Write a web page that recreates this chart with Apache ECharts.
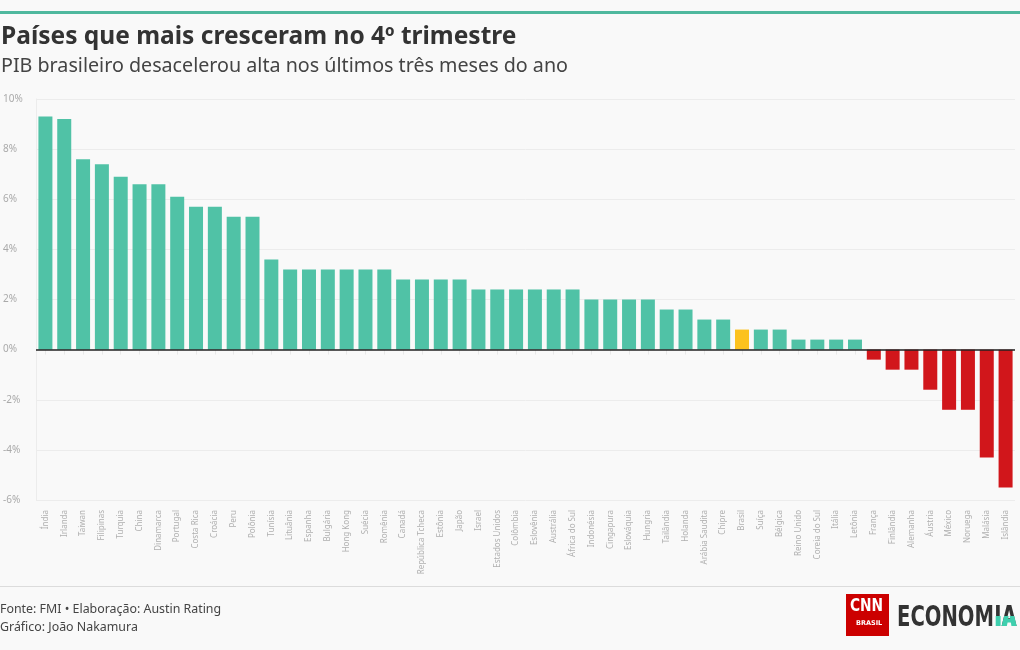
<!DOCTYPE html>
<html><head><meta charset="utf-8">
<script src="https://cdn.jsdelivr.net/npm/echarts@6/dist/echarts.min.js"></script>
<style>html,body{margin:0;padding:0;background:#f9f9f9;}#c{width:1020px;height:650px;}</style>
</head><body><div id="c"></div>
<script>
const categories = ["Índia","Irlanda","Taiwan","Filipinas","Turquia","China","Dinamarca","Portugal","Costa Rica","Croácia","Peru","Polônia","Tunísia","Lituânia","Espanha","Bulgária","Hong Kong","Suécia","Romênia","Canadá","República Tcheca","Estônia","Japão","Israel","Estados Unidos","Colômbia","Eslovênia","Austrália","África do Sul","Indonésia","Cingapura","Eslováquia","Hungria","Tailândia","Holanda","Arábia Saudita","Chipre","Brasil","Suíça","Bélgica","Reino Unido","Coreia do Sul","Itália","Letônia","França","Finlândia","Alemanha","Áustria","México","Noruega","Malásia","Islândia"];
const values = [9.3,9.2,7.6,7.4,6.9,6.6,6.6,6.1,5.7,5.7,5.3,5.3,3.6,3.2,3.2,3.2,3.2,3.2,3.2,2.8,2.8,2.8,2.8,2.4,2.4,2.4,2.4,2.4,2.4,2.0,2.0,2.0,2.0,1.6,1.6,1.2,1.2,0.8,0.8,0.8,0.4,0.4,0.4,0.4,-0.4,-0.8,-0.8,-1.6,-2.4,-2.4,-4.3,-5.5];
const highlight = "Brasil";
const yTicks = [-6,-4,-2,0,2,4,6,8,10];

const TEAL = "#50c2a6", RED = "#d1161b", YELLOW = "#fcc21e", LOGO_TEAL = "#3fcfae";
const chart = echarts.init(document.getElementById('c'), null, {renderer:'canvas'});
chart.setOption({
  backgroundColor: "#f9f9f9",
  animation: false,
  title: [
    {text: "Países que mais cresceram no 4º trimestre", left: 1, top: 25, padding: 0,
     textStyle: {fontFamily: "Noto Sans", fontWeight: "bold", fontSize: 24.5, color: "#333"}},
    {text: "PIB brasileiro desacelerou alta nos últimos três meses do ano", left: 1, top: 56, padding: 0,
     textStyle: {fontFamily: "Noto Sans", fontWeight: "normal", fontSize: 19.7, color: "#444"}}
  ],
  grid: {left: 34, right: 5, top: 99, bottom: 150},
  xAxis: {
    type: "category", data: categories,
    axisLine: {show: false},
    axisTick: {show: true, alignWithLabel: true, length: 5, lineStyle: {color: "#e8e8e8"}},
    axisLabel: {rotate: 90, interval: 0, fontSize: 8, color: "#b0b0b0", fontFamily: "Noto Sans", margin: 10}
  },
  yAxis: {
    type: "value", min: -6, max: 10, interval: 2,
    axisLine: {show: true, lineStyle: {color: "#ececec"}},
    axisTick: {show: false},
    splitLine: {lineStyle: {color: "#ececec"}},
    axisLabel: {formatter: v => yTicks.includes(v) ? v + "%" : "", align: "left", margin: 33,
      fontSize: 10, color: "#aaa", fontFamily: "Noto Sans"}
  },
  series: [{
    type: "bar", barWidth: 14,
    data: values.map((v, i) => ({value: v, itemStyle: {color: categories[i] === highlight ? YELLOW : (v < 0 ? RED : TEAL)}})),
    markLine: {silent: true, symbol: "none", label: {show: false},
      lineStyle: {color: "#222", width: 1.5, type: "solid"}, data: [{yAxis: 0}]}
  }],
  graphic: [
    {type: "rect", left: 0, top: 11, shape: {width: 1020, height: 3}, style: {fill: "#4fb89e"}},
    {type: "rect", left: 0, top: 586, shape: {width: 1020, height: 1}, style: {fill: "#dcdcdc"}},
    {type: "text", left: 0, top: 603, style: {text: "Fonte: FMI • Elaboração: Austin Rating", font: "12.4px 'Noto Sans'", fill: "#444"}},
    {type: "text", left: 0, top: 621, style: {text: "Gráfico: João Nakamura", font: "12.4px 'Noto Sans'", fill: "#444"}},
    {type: "rect", left: 846, top: 594, shape: {width: 43, height: 42}, style: {fill: "#cc0000"}},
    {type: "text", x: 850, y: 598, scaleX: 0.9, style: {text: "CNN", font: "bold 17px 'DejaVu Sans Condensed'", fill: "#fff"}},
    {type: "text", x: 856, y: 620, style: {text: "BRASIL", font: "bold 6.5px 'DejaVu Sans'", fill: "#fff"}},
    {type: "group", x: 897, y: 605, scaleX: 0.7, children: [
      {type: "text", x: 0, y: 0, style: {text: "ECONOM", font: "bold 28px 'DejaVu Sans'", fill: "#333"}},
      {type: "text", x: 139, y: 0, style: {text: "IA", font: "bold 28px 'DejaVu Sans'", fill: "#333"}},
      {type: "rect", x: 141, y: 11, shape: {width: 7, height: 10}, style: {fill: LOGO_TEAL}},
      {type: "polygon", shape: {points: [[149.5,21],[157,21],[159.5,11],[153,11]]}, style: {fill: LOGO_TEAL}},
      {type: "polygon", shape: {points: [[163.5,21],[171,21],[167.5,11],[161,11]]}, style: {fill: LOGO_TEAL}},
      {type: "rect", x: 155, y: 14, shape: {width: 10, height: 3.5}, style: {fill: LOGO_TEAL}}
    ]}
  ]
});
</script></body></html>
